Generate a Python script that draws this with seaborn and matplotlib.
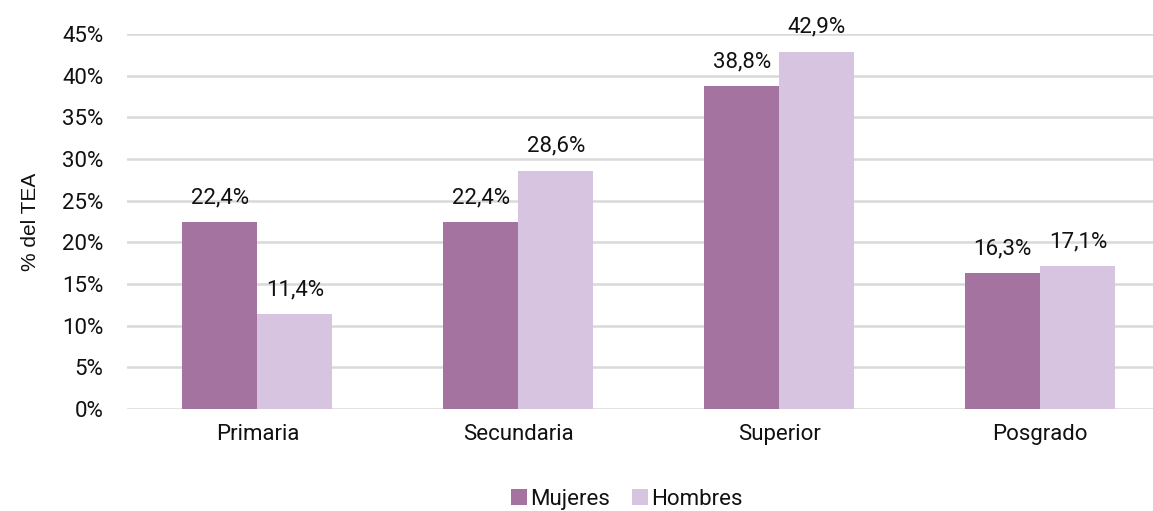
import pandas as pd
import seaborn as sns
import matplotlib.pyplot as plt

# ====
# data

niveles = ["Primaria", "Secundaria", "Superior", "Posgrado"]
mujeres = [22.4, 22.4, 38.8, 16.3]
hombres = [11.4, 28.6, 42.9, 17.1]
grupos = ["Mujeres", "Hombres"]
yticks = [0, 5, 10, 15, 20, 25, 30, 35, 40, 45]

df = pd.DataFrame({
    "nivel": niveles * 2,
    "grupo": [grupos[0]] * len(niveles) + [grupos[1]] * len(niveles),
    "valor": mujeres + hombres,
})

# ====
# plot

sns.set_theme(style="white")
plt.rcParams["font.family"] = ["Roboto", "DejaVu Sans"]
plt.rcParams["text.color"] = "#111111"
plt.rcParams["xtick.color"] = "#111111"
plt.rcParams["ytick.color"] = "#111111"

fig = plt.figure(figsize=(11.53, 5.11), dpi=100)
ax = fig.add_axes([0.110, 0.200, 0.9055, 0.733])

sns.barplot(
    data=df, x="nivel", y="valor", hue="grupo",
    palette=["#A5739F", "#D7C4E0"], width=0.575, gap=0,
    saturation=1, linewidth=0, ax=ax, legend=True,
)

ax.set_ylim(0, 45)
ax.set_xlim(-0.5, 3.5)
ax.set_yticks(yticks)
ax.set_yticklabels([f"{v}%" for v in yticks], fontsize=16)
ax.tick_params(axis="x", labelsize=16, length=0, pad=11)
ax.tick_params(axis="y", length=0, pad=17)
ax.yaxis.grid(True, color="#D9D9D9", linewidth=1.8)
ax.set_axisbelow(True)
for s in ax.spines.values():
    s.set_visible(False)

ax.set_xlabel("")
ax.set_ylabel("% del TEA", fontsize=15, color="#111111",
              family=["Liberation Sans", "DejaVu Sans"], labelpad=16)

for cont in ax.containers:
    ax.bar_label(cont, labels=[f"{v:.1f}%".replace(".", ",") for v in cont.datavalues],
                 padding=10, fontsize=16, clip_on=False)

ax.legend(loc="upper center", bbox_to_anchor=(0.479, -0.19), ncol=2, frameon=False,
          fontsize=16, handlelength=0.7, handleheight=0.7, handletextpad=0.15,
          columnspacing=1.0, borderaxespad=0)

plt.savefig("out.png", dpi=100)
